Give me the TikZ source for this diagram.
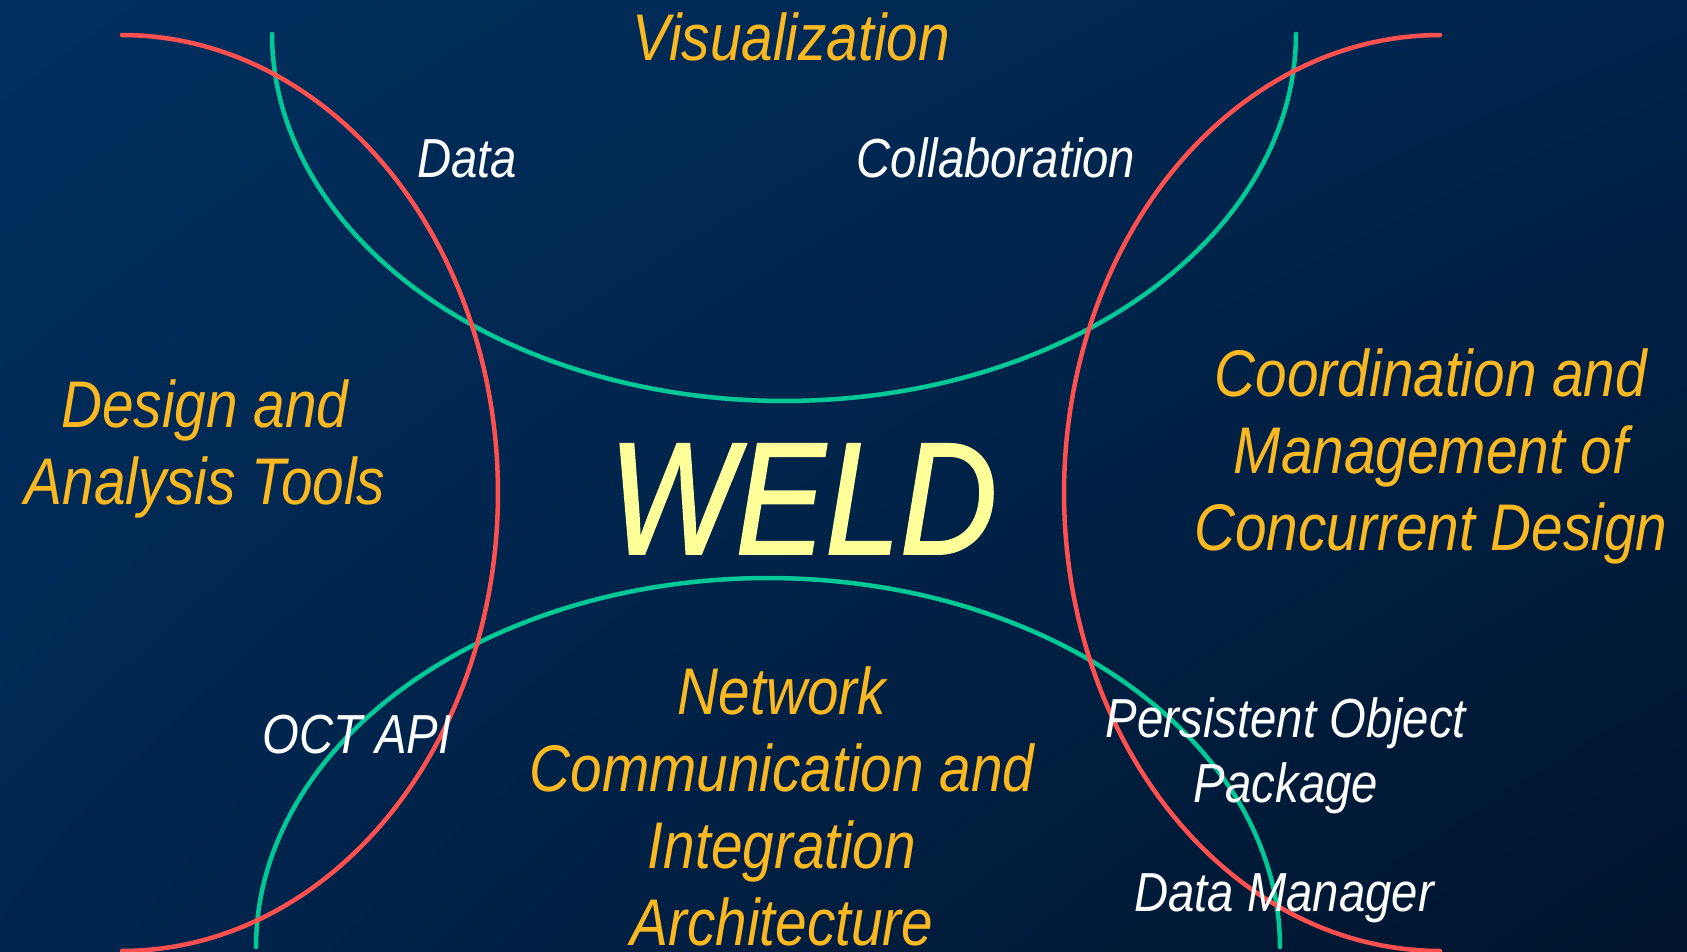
\documentclass[tikz,border=0pt]{standalone}
\usepackage{fontspec}
\usetikzlibrary{shadings}
\setmainfont{Liberation Sans}[FakeStretch=0.86]
\newfontfamily\weldfont{Liberation Sans}[FakeStretch=0.84, FakeBold=1.2]
\definecolor{bgUL}{RGB}{0,47,94}
\definecolor{bgUR}{RGB}{0,36,76}
\definecolor{bgLL}{RGB}{0,38,80}
\definecolor{bgLR}{RGB}{0,20,44}
\definecolor{arcred}{RGB}{255,80,80}
\definecolor{arcgreen}{RGB}{0,200,150}
\definecolor{labelorange}{RGB}{251,184,33}
\definecolor{weldyellow}{RGB}{255,255,153}
\tikzset{
  arcline/.style={line width=4.5pt, line cap=round},
  biglabel/.style={text=labelorange, font=\itshape\fontsize{66}{77}\selectfont, align=center, inner sep=0pt, anchor=base},
  smalllabel/.style={text=white, font=\itshape\fontsize{55}{65}\selectfont, align=center, inner sep=0pt, anchor=base},
  titlelabel/.style={text=weldyellow, font=\weldfont\itshape\fontsize{160}{160}\selectfont, inner sep=0pt, anchor=base}
}
\begin{document}
\begin{tikzpicture}[x=1pt,y=-1pt]
\useasboundingbox (0,0) rectangle (1687,951);
\shade[upper left=bgUL, upper right=bgUR, lower left=bgLL, lower right=bgLR] (0,0) rectangle (1687,951);
% arcs
\draw[arcline, arcgreen] plot[domain=0:180, samples=120] ({784+512*cos(\x)}, {34+367*sin(\x)});
\draw[arcline, arcgreen] plot[domain=180:360, samples=120] ({768+512*cos(\x)}, {947+369*sin(\x)});
\draw[arcline, arcred] plot[domain=-90:90, samples=120] ({122+376*cos(\x)}, {493+458*sin(\x)});
\draw[arcline, arcred] plot[domain=90:270, samples=120] ({1440+376*cos(\x)}, {493+458*sin(\x)});
% labels (base anchor = baseline of last line)
\node[biglabel] (vis) at (791,60) {Visualization};
\node[smalllabel] (data) at (467,177) {Data};
\node[smalllabel] (collab) at (996,177) {Collaboration};
\node[biglabel] (design) at (205,504) {Design and\\Analysis Tools};
\node[titlelabel] (weld) at (803,554) {WELD};
\node[biglabel] (coord) at (1431,550) {Coordination and\\Management of\\Concurrent Design};
\node[biglabel] (network) at (782,945) {Network\\Communication and\\Integration\\Architecture};
\node[smalllabel] (oct) at (357,753) {OCT API};
\node[smalllabel] (pop) at (1286,802) {Persistent Object\\Package};
\node[smalllabel] (dm) at (1284,911) {Data Manager};
\end{tikzpicture}
\end{document}
